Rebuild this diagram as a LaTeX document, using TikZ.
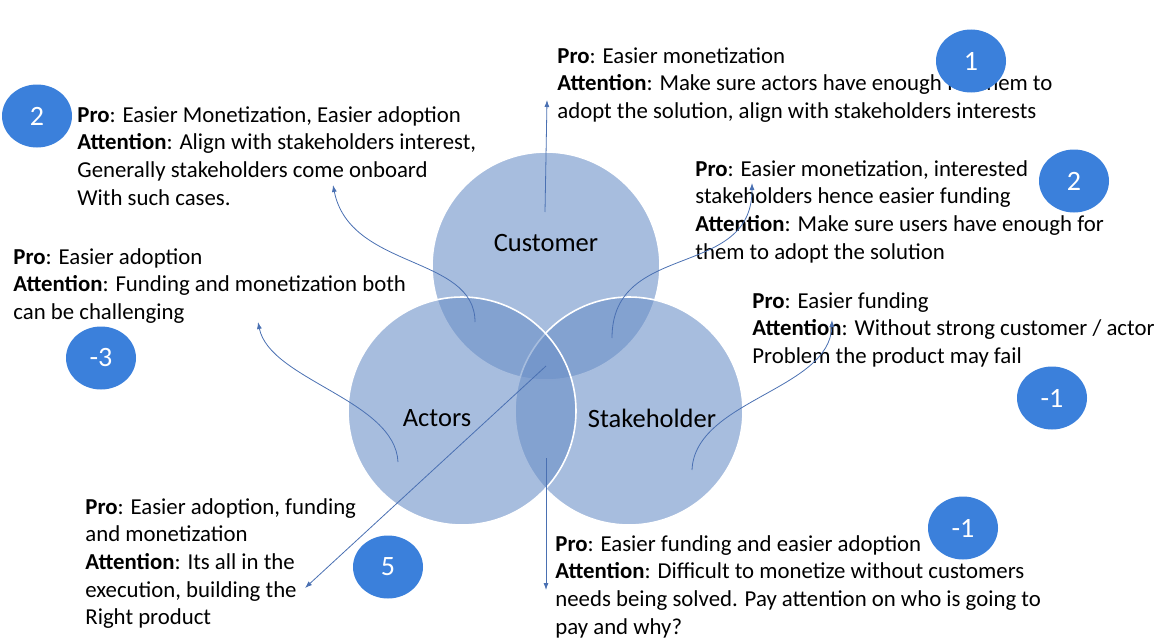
\documentclass[tikz,border=0pt]{standalone}
\usepackage{fontspec}
\setmainfont{Carlito}
\usetikzlibrary{shapes.geometric, arrows.meta}
\definecolor{ringblue}{RGB}{106,143,199}
\definecolor{badgeblue}{RGB}{59,128,219}
\definecolor{linkblue}{RGB}{74,112,178}

\begin{document}
\begin{tikzpicture}[x=1pt, y=-1pt, thick,
	ring/.style={circle, draw=white, line width=1.6pt, fill=ringblue, fill opacity=0.59, minimum size=228pt, inner sep=0pt},
	tag/.style={font=\fontsize{26.5}{30}\selectfont},
	note/.style={anchor=north west, align=left, inner sep=0pt, font=\fontsize{22.8}{27.6}\selectfont},
	badge/.style={ellipse, fill=badgeblue, text=white, minimum width=70pt, minimum height=63pt, inner sep=0pt, font=\fontsize{28}{30}\selectfont},
	link/.style={-{Latex[length=7pt, width=5pt]}, linkblue, line width=0.8pt}]
		\useasboundingbox (0,0) rectangle (1158,642);
		\node[ring] (1) at (546,266) {};
		\node[ring] (3) at (629,411) {};
		\node[ring] (2) at (462,411) {};
		\node[tag] (4) at (546,243) {Customer};
		\node[tag] (5) at (437,418) {Actors};
		\node[tag] (6) at (652,418) {Stakeholder};
		\node[note] (7) at (557,47) {\textbf{Pro}: Easier monetization\\ \textbf{Attention}: Make sure actors have enough for them to\\ adopt the solution, align with stakeholders interests};
		\node[note] (8) at (77,106) {\textbf{Pro}: Easier Monetization, Easier adoption\\ \textbf{Attention}: Align with stakeholders interest,\\ Generally stakeholders come onboard\\ With such cases.};
		\node[note] (9) at (695,160) {\textbf{Pro}: Easier monetization, interested\\ stakeholders hence easier funding\\ \textbf{Attention}: Make sure users have enough for\\ them to adopt the solution};
		\node[note] (10) at (13,248) {\textbf{Pro}: Easier adoption\\ \textbf{Attention}: Funding and monetization both\\ can be challenging};
		\node[note] (11) at (752,292) {\textbf{Pro}: Easier funding\\ \textbf{Attention}: Without strong customer / actor\\ Problem the product may fail};
		\node[note] (12) at (85,498) {\textbf{Pro}: Easier adoption, funding\\ and monetization\\ \textbf{Attention}: Its all in the\\ execution, building the\\ Right product};
		\node[note] (13) at (555,535) {\textbf{Pro}: Easier funding and easier adoption\\ \textbf{Attention}: Difficult to monetize without customers\\ needs being solved. Pay attention on who is going to\\ pay and why?};
		\coordinate (a1) at (545,212); \coordinate (b1) at (547,100);
		\coordinate (a2) at (475,322); \coordinate (b2) at (333,185);
		\coordinate (a3) at (398,462); \coordinate (b3) at (258,322);
		\coordinate (a4) at (612,338); \coordinate (b4) at (752,183);
		\coordinate (a5) at (692,470); \coordinate (b5) at (832,320);
		\coordinate (a6) at (546,366); \coordinate (b6) at (305,588);
		\coordinate (a7) at (546,458); \coordinate (b7) at (546,590);
		\draw[link] (a1) -- (b1);
		\draw[link] (a2) .. controls (475,255) and (350,270) .. (b2);
		\draw[link] (a3) .. controls (395,400) and (270,380) .. (b3);
		\draw[link] (a4) .. controls (612,240) and (752,280) .. (b4);
		\draw[link] (a5) .. controls (695,400) and (830,390) .. (b5);
		\draw[link] (a6) -- (b6);
		\draw[link] (a7) -- (b7);
		\node[badge] (14) at (971,61) {1};
		\node[badge] (15) at (37,116) {2};
		\node[badge] (16) at (1074,181) {2};
		\node[badge] (17) at (101,358) {-3};
		\node[badge] (18) at (1052,398) {-1};
		\node[badge] (19) at (388,567) {5};
		\node[badge] (20) at (963,528) {-1};
	\end{tikzpicture}
\end{document}
